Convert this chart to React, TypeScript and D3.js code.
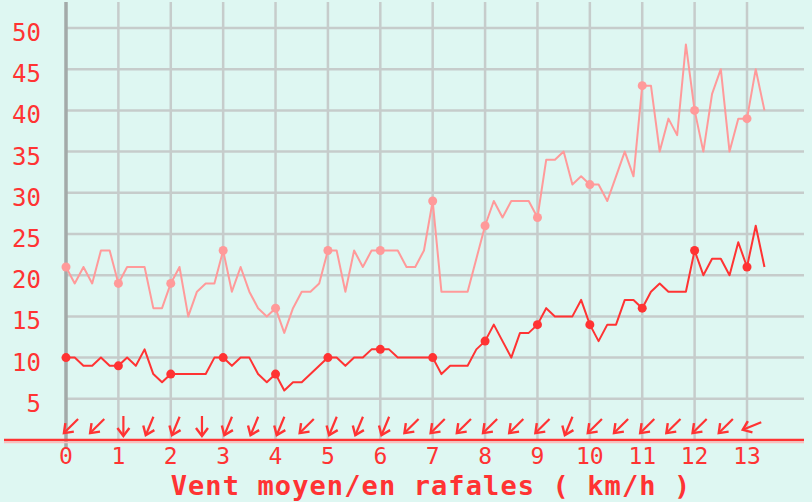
import React from "react";
import * as d3 from "d3";

// mean wind, one value every 10 minutes (km/h)
const meanWind = [
  10, 10, 9, 9, 10, 9,
  9, 10, 9, 11, 8, 7,
  8, 8, 8, 8, 8, 10,
  10, 9, 10, 10, 8, 7,
  8, 6, 7, 7, 8, 9,
  10, 10, 9, 10, 10, 11,
  11, 11, 10, 10, 10, 10,
  10, 8, 9, 9, 9, 11,
  12, 14, 12, 10, 13, 13,
  14, 16, 15, 15, 15, 17,
  14, 12, 14, 14, 17, 17,
  16, 18, 19, 18, 18, 18,
  23, 20, 22, 22, 20, 24,
  21, 26, 21,
];

// gusts, same timestamps
const gustWind = [
  21, 19, 21, 19, 23, 23,
  19, 21, 21, 21, 16, 16,
  19, 21, 15, 18, 19, 19,
  23, 18, 21, 18, 16, 15,
  16, 13, 16, 18, 18, 19,
  23, 23, 18, 23, 21, 23,
  23, 23, 23, 21, 21, 23,
  29, 18, 18, 18, 18, 22,
  26, 29, 27, 29, 29, 29,
  27, 34, 34, 35, 31, 32,
  31, 31, 29, 32, 35, 32,
  43, 43, 35, 39, 37, 48,
  40, 35, 42, 45, 35, 39,
  39, 45, 40,
];

// wind direction (degrees, where it comes from), every 30 minutes
const windDir = [
  45, 45, 0, 22.5, 22.5, 0, 22.5, 22.5, 22.5, 45, 22.5, 22.5, 22.5, 45,
  45, 45, 45, 45, 45, 22.5, 45, 45, 45, 45, 45, 45, 67.5,
];

const xTicks = d3.range(0, 14);
const yTicks = [5, 10, 15, 20, 25, 30, 35, 40, 45, 50];
const title = "Vent moyen/en rafales ( km/h )";

const W = 812;
const H = 502;
const bg = "#def7f2";
const red = "#ff3333";
const pink = "#ff9a9a";
const grid = "#c6cccb";

export default function App() {
  const x = d3.scaleLinear().domain([0, 13]).range([66, 747]);
  const y = d3.scaleLinear().domain([0, 50]).range([440, 28]);

  const hourOf = (i: number) => i / 6;
  const line = d3
    .line<number>()
    .x((_, i) => x(hourOf(i)))
    .y((d) => y(d));

  const markers = (vals: number[]) =>
    vals.map((v, i) => ({ h: hourOf(i), v })).filter((_, i) => i % 6 === 0);

  return (
    <svg
      width={W}
      height={H}
      style={{ position: "absolute", left: 0, top: 0, background: bg }}
    >
      <rect x={0} y={0} width={W} height={H} fill={bg} />

      {/* grid */}
      {yTicks.map((t) => (
        <line key={"h" + t} x1={x(0)} x2={804} y1={y(t)} y2={y(t)} stroke={grid} strokeWidth={2.5} />
      ))}
      {xTicks.slice(1).map((t) => (
        <line key={"v" + t} x1={x(t)} x2={x(t)} y1={2} y2={440} stroke={grid} strokeWidth={2.5} />
      ))}
      <line x1={x(0)} x2={x(0)} y1={2} y2={448} stroke="#a3aaa9" strokeWidth={3.5} />

      {/* baseline */}
      <line x1={4} x2={804} y1={440} y2={440} stroke={red} strokeWidth={2.5} />
      <line x1={4} x2={804} y1={442.5} y2={442.5} stroke="#ffbcbc" strokeWidth={1.5} />

      {/* series */}
      <path d={line(gustWind) ?? ""} fill="none" stroke={pink} strokeWidth={2} strokeLinejoin="round" />
      <path d={line(meanWind) ?? ""} fill="none" stroke={red} strokeWidth={2} strokeLinejoin="round" />
      {markers(gustWind).map((m, i) => (
        <circle key={"g" + i} cx={x(m.h)} cy={y(m.v)} r={4.5} fill={pink} />
      ))}
      {markers(meanWind).map((m, i) => (
        <circle key={"m" + i} cx={x(m.h)} cy={y(m.v)} r={4.5} fill={red} />
      ))}

      {/* wind direction arrows */}
      {windDir.map((d, i) => (
        <g key={"a" + i} transform={`translate(${x(i / 2) + 5},426) rotate(${d})`}>
          <line x1={0} y1={-10} x2={0} y2={10} stroke={red} strokeWidth={2.2} />
          <polyline points="-6,2 0,10 6,2" fill="none" stroke={red} strokeWidth={2.4} />
        </g>
      ))}

      {/* tick labels */}
      <g fontFamily="DejaVu Sans Mono" fill={red}>
        {yTicks.map((t) => (
          <text key={"yl" + t} x={41} y={y(t) + 13} textAnchor="end" fontSize={24}>
            {t}
          </text>
        ))}
        {xTicks.map((t) => (
          <text key={"xl" + t} x={x(t)} y={464} textAnchor="middle" fontSize={23}>
            {t}
          </text>
        ))}
      </g>

      <text
        x={431}
        y={495}
        textAnchor="middle"
        fontFamily="DejaVu Sans Mono"
        fontWeight="bold"
        fontSize={27}
        letterSpacing={1.1}
        fill={red}
      >
        {title}
      </text>
    </svg>
  );
}
